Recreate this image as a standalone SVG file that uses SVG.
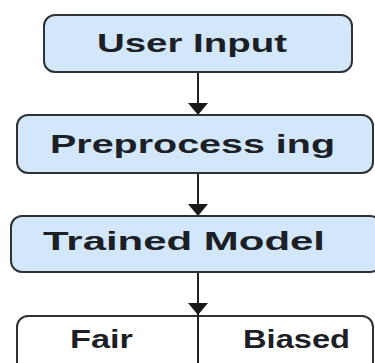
<svg xmlns="http://www.w3.org/2000/svg" width="375" height="363" viewBox="0 0 375 363">
<style>
.box{fill:#d3e7fa;stroke:#2e3236;stroke-width:2}
.out{fill:#ffffff;stroke:#2e3236;stroke-width:2}
.lbl{font-family:"Liberation Sans",Arial,sans-serif;font-weight:bold;font-size:25px;fill:#1c1f26}
.edge{stroke:#222;stroke-width:2;fill:none}
.arrow{stroke:#222;stroke-width:2;fill:none;marker-end:url(#ah)}
</style>
<defs>
<marker id="ah" viewBox="0 0 12 20" refX="12" refY="10" markerWidth="12" markerHeight="20" markerUnits="userSpaceOnUse" orient="auto">
<path d="M0,0 L12,10 L0,20 Z" fill="#1a1a1a"/>
</marker>
</defs>
<rect width="375" height="363" fill="#ffffff"/>
<g id="connectors">
<line class="arrow" x1="198" y1="72" x2="198" y2="115"/>
<line class="arrow" x1="198" y1="173" x2="198" y2="216"/>
<line class="arrow" x1="198" y1="272" x2="198" y2="315"/>
</g>
<g id="user-input">
<rect class="box" x="44" y="15" width="308" height="57" rx="11"/>
<text class="lbl" x="97" y="52" textLength="190" lengthAdjust="spacingAndGlyphs">User Input</text>
</g>
<g id="preprocessing">
<rect class="box" x="17" y="115" width="356" height="58" rx="11"/>
<text class="lbl" x="50" y="153" textLength="285" lengthAdjust="spacingAndGlyphs">Preprocess ing</text>
</g>
<g id="trained-model">
<rect class="box" x="11" y="216" width="370" height="56" rx="11"/>
<text class="lbl" x="43" y="250" textLength="282" lengthAdjust="spacingAndGlyphs">Trained Model</text>
</g>
<g id="result">
<rect class="out" x="17" y="316" width="356" height="60" rx="11"/>
<line class="edge" x1="198" y1="314" x2="198" y2="363"/>
<text class="lbl" x="70" y="348" textLength="63" lengthAdjust="spacingAndGlyphs">Fair</text>
<text class="lbl" x="243" y="348" textLength="107" lengthAdjust="spacingAndGlyphs">Biased</text>
</g>
</svg>
